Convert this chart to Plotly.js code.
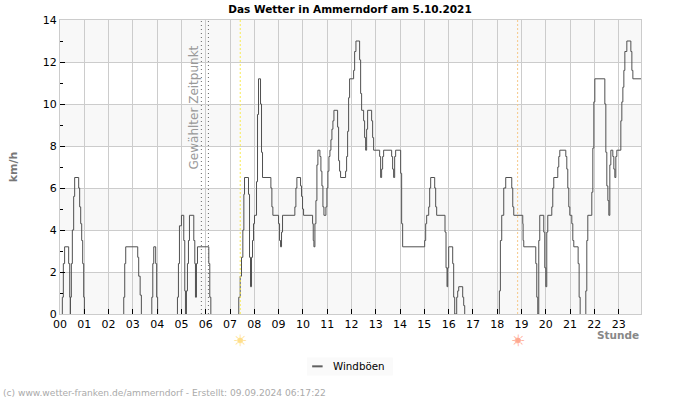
<!DOCTYPE html>
<html>
<head>
<meta charset="utf-8">
<script src="https://cdn.plot.ly/plotly-3.0.1.min.js"></script>
<style>
	html, body { margin: 0; padding: 0; background: #fff; }
	#root1 { width: 700px; height: 400px; }
</style>
</head>
<body>
<div id="root1"></div>
<script>
// a step changes to the value at that hour
// null = the reference draws no line while the wind is 0
let stunden = [
	0.096, 0.096, 0.137, 0.19, 0.357, 0.40, 0.426, 0.427, 0.467, 0.508, 0.563, 0.604, 0.769, 0.81, 0.852, 0.893, 0.934, 0.975, 1.003, 1.004,
	2.624, 2.624, 2.665, 2.706, 3.2, 3.24, 3.3, 3.35, 3.351,
	3.78, 3.78, 3.82, 3.86, 3.94, 3.98, 4.02, 4.021,
	4.835, 4.835, 4.876, 4.918, 5.0, 5.096, 5.137, 5.165, 5.206, 5.247, 5.288, 5.33, 5.508, 5.55, 5.577, 5.618, 5.66, 6.126, 6.167, 6.21, 6.211,
	7.36, 7.36, 7.418, 7.473, 7.528, 7.569, 7.597, 7.761, 7.803, 7.844, 7.885, 7.926, 7.967, 8.008, 8.091, 8.132, 8.173, 8.256, 8.297, 8.338,
	8.682, 8.723, 8.764, 8.998, 9.039, 9.08, 9.121, 9.162, 9.669, 9.712, 9.753, 9.904, 9.945, 9.986, 10.028,
	10.399, 10.426, 10.454, 10.495, 10.536, 10.577, 10.618, 10.701, 10.742, 10.783, 10.825, 10.866, 10.948, 10.989, 11.03, 11.072,
	11.113, 11.154, 11.195, 11.236, 11.278, 11.429, 11.47, 11.511, 11.552, 11.758, 11.8, 11.841, 11.882, 11.923,
	12.088, 12.13, 12.184, 12.335, 12.377, 12.418, 12.5, 12.541, 12.583, 12.624, 12.665, 12.83, 12.871, 12.912,
	13.16, 13.201, 13.242, 13.283, 13.324, 13.654, 13.695, 13.736, 13.778, 13.819, 14.025, 14.066, 14.107,
	15.014, 15.055, 15.096, 15.179, 15.22, 15.261, 15.426, 15.467, 15.508, 15.851, 15.893, 15.934, 15.961, 16.003,
	16.167, 16.208, 16.25, 16.332, 16.373, 16.415, 16.579, 16.62, 16.662, 16.663,
	18.09, 18.09, 18.131, 18.186, 18.269, 18.351, 18.599, 18.64, 18.681, 19.052, 19.066, 19.093,
	19.588, 19.629, 19.67, 19.711, 19.752, 19.917, 19.958, 20.0, 20.041, 20.082, 20.247, 20.288, 20.329, 20.494, 20.535, 20.577,
	20.824, 20.865, 20.906, 20.947, 20.989, 21.071, 21.112, 21.153, 21.332, 21.373, 21.415, 21.416,
	21.648, 21.648, 21.689, 21.73, 21.895, 21.937, 21.978, 22.019, 22.431, 22.472, 22.513, 22.555, 22.596, 22.637, 22.678,
	22.76, 22.802, 22.843, 22.884, 22.925, 23.09, 23.131, 23.173, 23.214, 23.255, 23.337, 23.502, 23.544, 23.585, 23.92
];
let windboeen = [
	0, 0.8, 2.4, 3.2, 2.4, 0.8, 0, 0.8, 2.4, 4, 5.6, 6.5, 6, 5.1, 4.3, 3.5, 2.4, 0.8, 0, null,
	0, 0.8, 2.4, 3.2, 2.7, 1.8, 0.9, 0, null,
	0, 0.8, 2.4, 3.2, 2.4, 0.8, 0, null,
	0, 0.8, 2.4, 4.2, 4.7, 3.5, 1.1, 0, 1.1, 2.4, 3.5, 4.7, 3.5, 2.4, 0.8, 2.4, 3.2, 2.4, 0.8, 0, null,
	0, 0.8, 1.8, 2.7, 4, 5.7, 6.5, 5.7, 2.7, 1.3, 2.7, 3.5, 4.3, 4.7, 6.3, 9.5, 11.2, 10, 7.7, 6.5,
	6, 5.1, 4.7, 4.3, 3.5, 3.2, 3.9, 4.7, 5.1, 6, 6.5, 6.1, 5.6, 5, 4.7,
	4.3, 3.5, 3.2, 4.3, 5.4, 7.1, 7.8, 7.5, 6.8, 6.1, 5.1, 4.7, 5.1, 6, 6.8, 7.5,
	7.8, 8.3, 8.8, 9.2, 9.7, 8.9, 7.3, 6.8, 6.5, 6.8, 7.5, 8.7, 10.3, 11.2,
	11.6, 12.5, 13, 12.1, 10.5, 9.7, 9.2, 8.4, 7.8, 8.8, 9.7, 9.2, 8.4, 7.8,
	7.5, 6.5, 6.9, 7.5, 7.8, 7.5, 6.9, 6.5, 7.5, 7.8, 6.7, 4.3, 3.2,
	3.5, 4.3, 4.7, 5.1, 6, 6.5, 6, 5.1, 4.7, 3.9, 2.2, 1.3, 2.2, 3.2,
	2.4, 0.8, 0, 0.8, 1.1, 1.3, 0.8, 0.4, 0, null,
	0, 1.1, 3.5, 4.7, 6, 6.5, 6, 5.1, 4.7, 4.3, 3.5, 3.2,
	2.4, 0.8, 0, 3.5, 4.7, 3.9, 2.2, 1.3, 3.9, 4.7, 5.1, 6, 6.5, 7, 7.5, 7.8,
	7.5, 6.9, 6, 5.1, 4.7, 4.3, 3.5, 3.2, 2.4, 0.8, 0, null,
	0, 1.1, 3.5, 4.7, 5.8, 7.9, 10.1, 11.2, 10, 7.7, 6.1, 5.4, 4.7, 7.1, 7.8,
	7.5, 6.9, 6.5, 7.5, 7.8, 9.2, 10.1, 10.8, 11.6, 12.5, 13, 12.5, 11.6, 11.2, 11.2
];
let stundenTicks = [0, 1, 2, 3, 4, 5, 6, 7, 8, 9, 10, 11, 12, 13, 14, 15, 16, 17, 18, 19, 20, 21, 22, 23];
let stundenLabels = ['00', '01', '02', '03', '04', '05', '06', '07', '08', '09', '10', '11', '12', '13', '14', '15', '16', '17', '18', '19', '20', '21', '22', '23'];
let baender = [[0, 2], [4, 6], [8, 10], [12, 14]];
let zeitpunkt = [5.82, 6.11];
let aufgang = 7.42;
let untergang = 18.84;

function vLine(x, color, dash) {
	return {
		type: 'line', layer: 'above', xref: 'x', yref: 'paper', x0: x, x1: x, y0: 0, y1: 1,
		line: {color: color, width: 1, dash: dash}
	};
}

function sunCore(x, color) {
	return {
		type: 'circle', layer: 'above', xref: 'x', yref: 'paper',
		xsizemode: 'pixel', ysizemode: 'pixel', xanchor: x, yanchor: -0.09,
		x0: -3, x1: 3, y0: -3, y1: 3,
		fillcolor: color, line: {width: 0}
	};
}

function sunRays(x, color) {
	return {
		text: '\u2600', xref: 'x', yref: 'paper', x: x, y: -0.09, yanchor: 'middle', showarrow: false,
		font: {size: 16, color: color}
	};
}

function createGraph() {
	let font = 'DejaVu Sans, sans-serif';
	let wind = {
		x: stunden,
		y: windboeen,
		name: 'Windböen',
		mode: 'lines',
		type: 'scatter',
		showlegend: false,
		connectgaps: false,
		line: {shape: 'hv', color: '#505050', width: 1}
	};
	let shapes = baender.map(function(b) {
		return {
			type: 'rect', layer: 'below', xref: 'paper', yref: 'y', x0: 0, x1: 1, y0: b[0], y1: b[1],
			fillcolor: '#f8f8f8', line: {width: 0}
		};
	});
	shapes.push(vLine(zeitpunkt[0], '#666666', '1px,3px'));
	shapes.push(vLine(zeitpunkt[1], '#666666', '1px,3px'));
	shapes.push(vLine(aufgang, '#f8ea50', '2px,2px'));
	shapes.push(vLine(untergang, '#f5c88a', '2px,2px'));
	shapes.push(sunCore(aufgang, '#ffe9ac'));
	shapes.push(sunCore(untergang, '#ffc0ac'));
	// legend box, plotly's own legend cannot get this small
	shapes.push({
		type: 'rect', layer: 'above', xref: 'paper', yref: 'paper', x0: 0.425, x1: 0.573, y0: -0.148, y1: -0.209,
		fillcolor: '#fafafa', line: {width: 0}
	});
	shapes.push({
		type: 'line', layer: 'above', xref: 'paper', yref: 'paper', x0: 0.434, x1: 0.452, y0: -0.178, y1: -0.178,
		line: {color: '#606060', width: 2}
	});

	let layout = {
		width: 700,
		height: 400,
		margin: {l: 60, r: 59.3, t: 20, b: 85.5},
		paper_bgcolor: '#ffffff',
		plot_bgcolor: '#ffffff',
		font: {family: font, size: 11, color: '#000000'},
		title: {
			text: '<b>Das Wetter in Ammerndorf am 5.10.2021</b>',
			font: {size: 10.5, color: '#000000'},
			x: 0.5, xref: 'container', xanchor: 'center', y: 0.977, yanchor: 'middle'
		},
		xaxis: {
			range: [0, 23.92],
			tickmode: 'array',
			tickvals: stundenTicks,
			ticktext: stundenLabels,
			ticks: 'inside',
			ticklen: 5,
			tickcolor: '#000000',
			tickangle: 0,
			showgrid: true,
			gridcolor: '#cccccc',
			zeroline: false,
			showline: true,
			linecolor: '#cccccc',
			mirror: true
		},
		yaxis: {
			range: [0, 14],
			dtick: 2,
			ticks: 'inside',
			ticklen: 5,
			tickcolor: '#000000',
			minor: {dtick: 1, ticks: 'inside', ticklen: 3, tickcolor: '#000000', showgrid: false},
			showgrid: true,
			gridcolor: '#cccccc',
			zeroline: false,
			showline: true,
			linecolor: '#cccccc',
			mirror: true,
			title: {text: '<b>km/h</b>', font: {size: 11, color: '#777777'}, standoff: 22}
		},
		shapes: shapes,
		annotations: [
			{
				text: 'Gewählter Zeitpunkt', xref: 'x', yref: 'y', x: 5.52, y: 9.84, textangle: -90,
				showarrow: false, font: {size: 12, color: '#999999'}
			},
			{
				text: '<b>Stunde</b>', xref: 'paper', yref: 'paper', x: 1, y: -0.07, xanchor: 'right', yanchor: 'middle',
				showarrow: false, font: {size: 10.5, color: '#888888'}
			},
			{
				text: 'Windböen', xref: 'paper', yref: 'paper', x: 0.467, y: -0.178, xanchor: 'left', yanchor: 'middle',
				showarrow: false, font: {size: 10.3, color: '#000000'}
			},
			{
				text: '(c) www.wetter-franken.de/ammerndorf - Erstellt: 09.09.2024 06:17:22',
				xref: 'paper', yref: 'paper', x: -0.102, y: -0.268, xanchor: 'left', yanchor: 'middle',
				showarrow: false, font: {size: 9.1, color: '#aaaaaa'}
			},
			sunRays(aufgang, '#ffdf8a'),
			sunRays(untergang, '#ffa890')
		]
	};

	Plotly.newPlot('root1', [wind], layout, {staticPlot: true});
}

createGraph();
</script>
</body>
</html>
